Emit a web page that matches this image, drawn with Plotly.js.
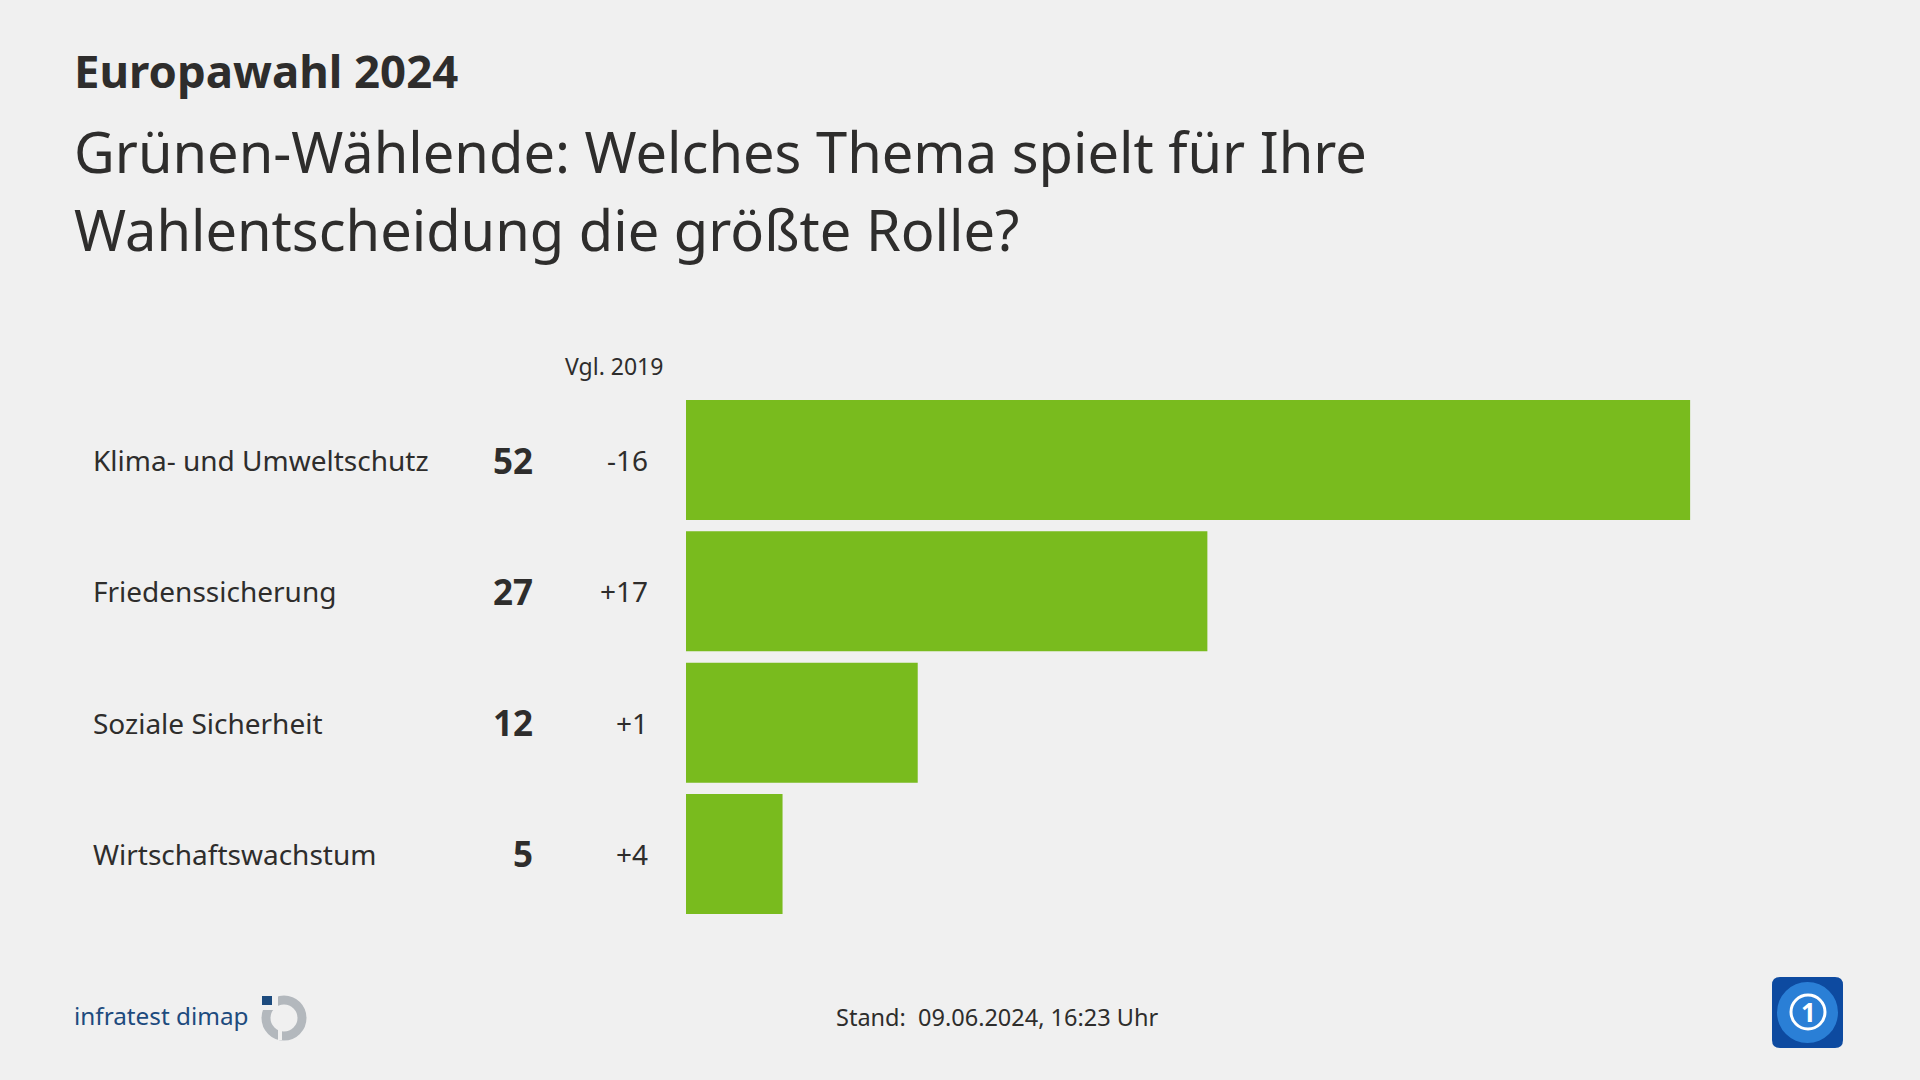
<!DOCTYPE html>
<html>
<head>
<meta charset="utf-8">
<script src="https://cdn.plot.ly/plotly-3.0.1.min.js"></script>
<style>
  html, body { margin: 0; padding: 0; background: #f0f0f0; }
  #chart { width: 1920px; height: 1080px; }
</style>
</head>
<body>
<div id="chart"></div>
<script>
const themes = ['Klima- und Umweltschutz', 'Friedenssicherung', 'Soziale Sicherheit', 'Wirtschaftswachstum'];
const shares = [52, 27, 12, 5];
const changes = ['-16', '+17', '+1', '+4'];

const W = 1920, H = 1080;
const px = x => x / W;
const py = y => 1 - y / H;

const FONT = '"Noto Sans", "Open Sans", sans-serif';
const TXT = '#2e2d2c';
const GREEN = '#79bb1e';

const trace = {
    type: 'bar',
    orientation: 'h',
    x: shares,
    y: themes,
    marker: { color: GREEN },
    hoverinfo: 'none'
};

const annotations = [];

// row labels, values and comparison
themes.forEach((t, i) => {
    annotations.push({
        xref: 'paper', yref: 'y', x: px(91), y: t,
        xanchor: 'left', yanchor: 'middle', showarrow: false,
        text: t, font: { family: FONT, size: 28, color: TXT }
    });
    annotations.push({
        xref: 'paper', yref: 'y', x: px(535), y: t,
        xanchor: 'right', yanchor: 'middle', showarrow: false,
        text: '<b>' + shares[i] + '</b>', font: { family: FONT, size: 35, color: TXT }
    });
    annotations.push({
        xref: 'paper', yref: 'y', x: px(650), y: t,
        xanchor: 'right', yanchor: 'middle', showarrow: false,
        text: changes[i], font: { family: FONT, size: 28, color: TXT }
    });
});

annotations.push(
    {
        xref: 'paper', yref: 'paper', x: px(665), y: py(366),
        xanchor: 'right', yanchor: 'middle', showarrow: false,
        text: 'Vgl. 2019', font: { family: FONT, size: 23, color: TXT }
    },
    {
        xref: 'paper', yref: 'paper', x: px(72), y: py(70),
        xanchor: 'left', yanchor: 'middle', showarrow: false,
        text: '<b>Europawahl 2024</b>', font: { family: FONT, size: 45.5, color: TXT }
    },
    {
        xref: 'paper', yref: 'paper', x: px(72), y: py(151),
        xanchor: 'left', yanchor: 'middle', showarrow: false,
        text: 'Grünen-Wählende: Welches Thema spielt für Ihre', font: { family: FONT, size: 56, color: TXT }
    },
    {
        xref: 'paper', yref: 'paper', x: px(72), y: py(229),
        xanchor: 'left', yanchor: 'middle', showarrow: false,
        text: 'Wahlentscheidung die größte Rolle?', font: { family: FONT, size: 56, color: TXT }
    },
    {
        xref: 'paper', yref: 'paper', x: px(997), y: py(1017),
        xanchor: 'center', yanchor: 'middle', showarrow: false,
        text: 'Stand:  09.06.2024, 16:23 Uhr', font: { family: FONT, size: 23.5, color: TXT }
    },
    {
        xref: 'paper', yref: 'paper', x: px(72), y: py(1015),
        xanchor: 'left', yanchor: 'middle', showarrow: false,
        text: 'infratest dimap', font: { family: FONT, size: 24.3, color: '#1d4b7e' }
    },
    {
        xref: 'paper', yref: 'paper', x: px(1808), y: py(1012),
        xanchor: 'center', yanchor: 'middle', showarrow: false,
        text: '<b>1</b>', font: { family: FONT, size: 26, color: '#ffffff' }
    }
);

const shapes = [
    // infratest dimap icon
    {
        type: 'circle', xref: 'paper', yref: 'paper',
        x0: px(266), x1: px(302), y0: py(1000), y1: py(1036),
        line: { color: '#b3b8bd', width: 9 }, fillcolor: 'rgba(0,0,0,0)'
    },
    {
        type: 'rect', xref: 'paper', yref: 'paper',
        x0: px(258), x1: px(278), y0: py(992), y1: py(1010),
        line: { width: 0 }, fillcolor: '#f0f0f0'
    },
    {
        type: 'rect', xref: 'paper', yref: 'paper',
        x0: px(262), x1: px(272), y0: py(996), y1: py(1005),
        line: { width: 0 }, fillcolor: '#1d4b7e'
    },
    {
        type: 'rect', xref: 'paper', yref: 'paper',
        x0: px(278), x1: px(282), y0: py(1030), y1: py(1040),
        line: { width: 0 }, fillcolor: '#f0f0f0'
    },
    // ARD logo
    {
        type: 'path', xref: 'paper', yref: 'paper',
        path: (() => {
            const l = 1772, r = 1843, t = 977, b = 1048, c = 8;
            return 'M ' + px(l + c) + ' ' + py(t) +
                ' L ' + px(r - c) + ' ' + py(t) +
                ' Q ' + px(r) + ' ' + py(t) + ' ' + px(r) + ' ' + py(t + c) +
                ' L ' + px(r) + ' ' + py(b - c) +
                ' Q ' + px(r) + ' ' + py(b) + ' ' + px(r - c) + ' ' + py(b) +
                ' L ' + px(l + c) + ' ' + py(b) +
                ' Q ' + px(l) + ' ' + py(b) + ' ' + px(l) + ' ' + py(b - c) +
                ' L ' + px(l) + ' ' + py(t + c) +
                ' Q ' + px(l) + ' ' + py(t) + ' ' + px(l + c) + ' ' + py(t) + ' Z';
        })(),
        line: { width: 0 }, fillcolor: '#0d4aa0'
    },
    {
        type: 'circle', xref: 'paper', yref: 'paper',
        x0: px(1777), x1: px(1838), y0: py(982), y1: py(1043),
        line: { width: 0 }, fillcolor: '#2a7fd6'
    },
    {
        type: 'circle', xref: 'paper', yref: 'paper',
        x0: px(1791), x1: px(1825), y0: py(995), y1: py(1029),
        line: { color: '#ffffff', width: 3 }, fillcolor: 'rgba(0,0,0,0)'
    }
];

const layout = {
    width: W,
    height: H,
    margin: { l: 0, r: 0, t: 0, b: 0 },
    paper_bgcolor: '#f0f0f0',
    plot_bgcolor: '#f0f0f0',
    showlegend: false,
    bargap: 0.086,
    xaxis: {
        domain: [px(686), px(686 + 60 * 19.31)],
        range: [0, 60],
        visible: false,
        fixedrange: true
    },
    yaxis: {
        domain: [py(919.6), py(394.4)],
        type: 'category',
        autorange: 'reversed',
        visible: false,
        fixedrange: true
    },
    annotations: annotations,
    shapes: shapes
};

Plotly.newPlot('chart', [trace], layout, { displayModeBar: false, staticPlot: true });
</script>
</body>
</html>
